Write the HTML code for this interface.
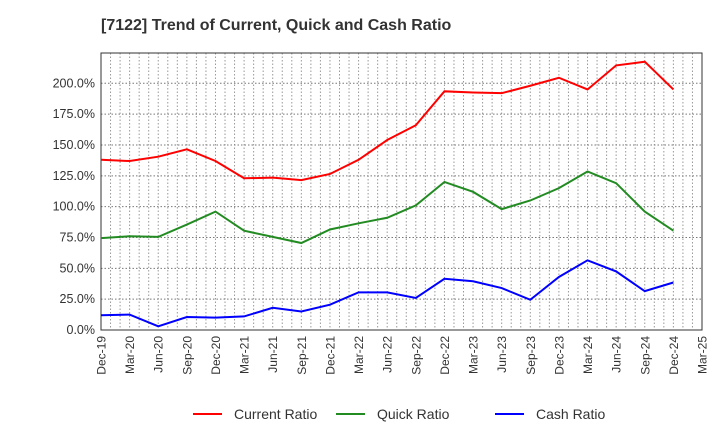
<!DOCTYPE html>
<html><head><meta charset="utf-8"><style>
body{margin:0;background:#fff;}
text{font-family:"Liberation Sans",sans-serif;fill:#333;}
</style></head><body>
<svg id="chart" width="720" height="440" xmlns="http://www.w3.org/2000/svg">
<text x="101" y="30" font-size="16" font-weight="bold" style="fill:#333">[7122]  Trend of Current, Quick and Cash Ratio</text>
<g id="grid"></g>
<g id="axes"></g>
<g id="series"></g>
<g id="legend"></g>
</svg>
<script>
const categories=["Dec-19","Mar-20","Jun-20","Sep-20","Dec-20","Mar-21","Jun-21","Sep-21","Dec-21","Mar-22","Jun-22","Sep-22","Dec-22","Mar-23","Jun-23","Sep-23","Dec-23","Mar-24","Jun-24","Sep-24","Dec-24","Mar-25"];
const currentRatio=[138,137,140.5,146.5,137,123,123.5,121.5,126.5,138,154,166,193.5,192.5,192,198,204.5,195,214.5,217.5,195];
const quickRatio=[74.5,76,75.5,85.5,96,80.5,75.5,70.5,81.5,86.5,91,101,120,112,98,105,115,128.5,119,96,80.5];
const cashRatio=[12,12.5,3,10.5,10,11,18,15,20.5,30.5,30.5,26,41.5,39.5,34,24.5,43,56.5,47.5,31.5,38.5];
const yTicks=[0,25,50,75,100,125,150,175,200];
const seriesNames=["Current Ratio","Quick Ratio","Cash Ratio"];
const L=101,R=702,T=53,B=330;
const xs=i=>L+i*(R-L)/(categories.length-1);
const ys=v=>B-v*(B-83.3)/200;
const NS="http://www.w3.org/2000/svg";
function mk(p,t,a){const e=document.createElementNS(NS,t);for(const k in a)e.setAttribute(k,a[k]);p.appendChild(e);return e;}
const grid=document.getElementById('grid'),axes=document.getElementById('axes'),ser=document.getElementById('series'),leg=document.getElementById('legend');
for(let m=1;m<(categories.length-1)*3;m++){const x=L+m*(R-L)/((categories.length-1)*3);
const g=mk(grid,'line',{x1:x,x2:x,y1:T,y2:B,stroke:'#999','stroke-dasharray':'1.5,2','stroke-width':1});

}
yTicks.forEach(v=>{const y=ys(v);
const g=mk(grid,'line',{x1:L,x2:R,y1:y,y2:y,stroke:'#777','stroke-dasharray':'1.5,2','stroke-width':1});


const t=mk(axes,'text',{x:L-6,y:y+4,'text-anchor':'end','font-size':12.5});t.textContent=v.toFixed(1)+'%';

});
const box=mk(axes,'rect',{x:L,y:T,width:R-L,height:B-T,fill:'none',stroke:'#333','stroke-width':1});


categories.forEach((c,i)=>{const x=xs(i);
const t=mk(axes,'text',{transform:`translate(${x+4.5},${B+6}) rotate(-90)`,'text-anchor':'end','font-size':12});t.textContent=c;

});
const colors=['#ff0000','#228b22','#0000ff'];
[currentRatio,quickRatio,cashRatio].forEach((d,k)=>{
const p=mk(ser,'polyline',{points:d.map((v,i)=>xs(i)+','+ys(v)).join(' '),fill:'none',stroke:colors[k],'stroke-width':2});

});
const lx=[193,336,495];
seriesNames.forEach((n,k)=>{
const l=mk(leg,'line',{x1:lx[k],x2:lx[k]+29,y1:414,y2:414,stroke:colors[k],'stroke-width':2});


const t=mk(leg,'text',{x:lx[k]+41,y:419,'font-size':14});t.textContent=n;

});
</script>
</body></html>
